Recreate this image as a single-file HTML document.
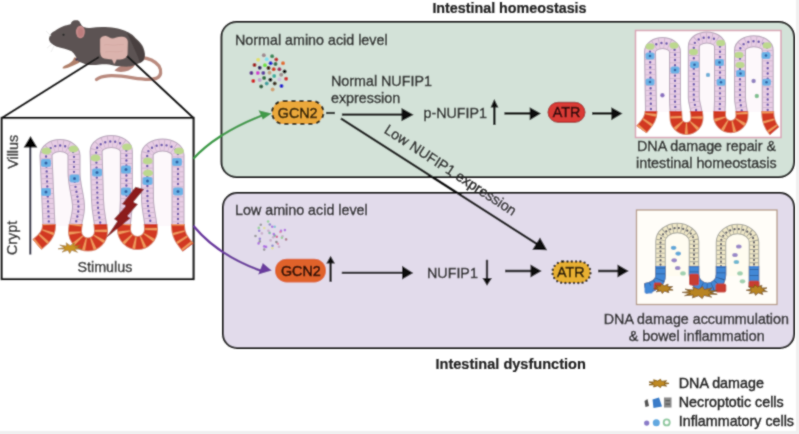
<!DOCTYPE html>
<html><head><meta charset="utf-8">
<style>
html,body{margin:0;padding:0;background:#fff;width:799px;height:434px;overflow:hidden}
svg{display:block}
text{font-family:"Liberation Sans",sans-serif;font-size:14.3px;fill:#262626;stroke:#262626;stroke-width:0.4}
.b{font-weight:bold;fill:#222;stroke:#222;stroke-width:0.2}
</style></head><body>
<svg width="799" height="434" viewBox="0 0 799 434">

<filter id="soft" x="0" y="0" width="799" height="434" filterUnits="userSpaceOnUse"><feConvolveMatrix order="3" kernelMatrix="0.04 0.1 0.04 0.1 0.44 0.1 0.04 0.1 0.04" edgeMode="duplicate"/></filter>
<g filter="url(#soft)">
<defs>
<path id="pL" d="M37,244.5 C41,241 49,236 49,226 L46,155.5 A14,10 0 0 1 74,155.5 L74,172 C74,186 78.5,196 78.5,207 C78.5,216 75,222 75,231.5 A13,13 0 0 0 101,231.5 C101,222 98,215 97.5,200 L96.1,151.4 A15.15,10 0 0 1 126.4,151.4 L126.4,200 C126.4,215 124,222 124,229.5 A13.5,13.5 0 0 0 151,229.5 C151,220 148,212 147.5,200 L147.2,155 A15.4,10 0 0 1 178,155 L178,226 C178,236 183,241 188,247.5"/>
<path id="pG" d="M641.5,129.5 C644,126 651,121 651,112 L650,52 A12.5,9 0 0 1 675,52 L675,100 C675,108 676,112 676,118 A10.5,10.5 0 0 0 697,118 C697,110 694,104 693.8,98 L693.8,46.4 A13.1,9 0 0 1 720,46.4 L720,100 C720,106 719.5,110 719.5,115.5 A11.25,11.25 0 0 0 742,115.5 C742,108 740,104 740,98 L740,50.2 A13.85,9 0 0 1 767.7,50.2 L767.7,112 C767.7,120 770,126 774.5,131"/>
<path id="pP" d="M645,288.5 C652,287 660.5,284 660.5,276 L660.5,241.5 A16.75,13.5 0 0 1 694,241.5 L694,274.5 A13.5,13.5 0 0 0 721,274.5 L721,242.5 A16.5,13.5 0 0 1 754,242.5 L754,287"/>
<clipPath id="cLred"><rect x="0" y="224" width="200" height="40"/></clipPath>
<clipPath id="cGred"><rect x="630" y="111" width="160" height="30"/></clipPath>
</defs>
<rect x="796" y="0" width="3" height="434" fill="#f0f0f0"/>
<rect x="0" y="431" width="799" height="3" fill="#f0f0f0"/>
<text class="b" x="432.4" y="12.5">Intestinal homeostasis</text>
<text class="b" x="435.5" y="368.5" style="font-size:14.55px">Intestinal dysfunction</text>
<rect x="221.5" y="22" width="572.5" height="155" rx="15" fill="#d3e2d8" stroke="#222" stroke-width="2"/>
<rect x="223" y="193" width="571" height="155" rx="14" fill="#e2dbeb" stroke="#222" stroke-width="2"/>
<g id="mouse">
<path d="M141,57.5 C148,58 155,61 159,66 C162,71 161,76 157,78 C152,80.5 144,79.5 133,77.8 C124,76.3 117,75.3 108,75.8 C103,76.2 99,77.5 96.5,79.5" fill="none" stroke="#b98a7e" stroke-width="3.3" stroke-linecap="round"/>
<path d="M136,63 C134,67.5 130,70.5 125,71.6 C121,72.3 117,72 114.5,70.6 C116,68.6 118.5,67 121,66 Z" fill="#b4847a"/>
<path d="M75,57 C77,59.5 79,61.5 79.7,62.5 C76,64.2 72,66.2 68,67.8 C66,68.6 63.5,68.9 62.5,68.3 C62.4,67 64,66 66,65 C70,63.4 73,61 74,58 Z" fill="#b0806a"/>
<path d="M49,38.4 C50,34 52,32 54.7,31 C58,28.5 62,26.5 65.2,25.5 C67.5,25 69.5,24.5 70.8,23.9 C71.5,21.5 73,20.5 75,20.3 C77,20 79,20 79.8,22.3 C81,24.5 82,26.5 83.7,27.1 C86,28 88,28.3 90,28 C95,27.2 100,26.8 105,27 C115,27.5 122,29 127,31.7 C132,34 134,36 136,38.5 C140,42 142.5,45 143.5,48 C145,52 145.5,56 144,60 C142.5,62 140,63 137,64 C135,65 133,66 130,66.5 C124,67 118,66 113.5,65.4 C110,64.6 106,64 100,64.4 C95,65 90,65.5 85.3,64.2 C82,63 80,62 78,61.5 C76.5,58 75,54 71.6,51.3 C68,49.5 62,48 56.3,46.5 C53,45 50.5,43 49.8,41.6 C49.2,40.5 48.9,39.5 49,38.4 Z" fill="#5b5352"/>
<path d="M127,33 C134,37 141,43 144,52 C145.5,57 144,61 140,62.5 C138,56 133,46 127,33 Z" fill="#463d3d" opacity="0.85"/>
<circle cx="76.5" cy="59.5" r="1.2" fill="#3a3352"/>
<path d="M100.2,39 C101,36.8 104,35.8 106.5,36.2 C108.5,36.8 110,38.4 112.5,38.4 C115,38.4 118,36.4 122,36.7 C126,37.1 127.8,39 127.8,42 L127.5,54 C127,57.5 124,59.4 120,59.4 L116.6,59.4 C115.8,61 115.2,63 114,64 C113.3,62.2 112.8,60.6 112,59.4 L104.5,58.6 C101.8,58 100.4,55.5 100.2,52 Z" fill="#dbb3ad"/>
<path d="M104,45 C108,43.5 112,46 116,45 C119,44 122,45 124,44.5 M105,52 C110,50.5 116,53 123,51" stroke="#cfa29d" stroke-width="0.9" fill="none" opacity="0.6"/>
<ellipse cx="80.4" cy="32" rx="4.4" ry="6.2" fill="#c48a8a"/>
<ellipse cx="80.6" cy="32.5" rx="2.6" ry="4.2" fill="#b87474" opacity="0.6"/>
<circle cx="63.5" cy="34.8" r="1.1" fill="#222"/>
<path d="M52,44 L47,48 M54,46 L51,52 M51,36 L46,31" stroke="#e4e4e4" stroke-width="0.7"/>
</g>
<rect x="1.8" y="118" width="191.7" height="161" fill="#fff" stroke="#1a1a1a" stroke-width="2.2"/>
<line x1="99" y1="57" x2="1.8" y2="118" stroke="#1a1a1a" stroke-width="2"/>
<line x1="127" y1="56" x2="193.5" y2="118" stroke="#1a1a1a" stroke-width="2"/>
<path d="M49,226 L46,155.5 A14,10 0 0 1 74,155.5 L74,172 C74,186 78.5,196 78.5,207 C78.5,216 75,222 75,226 Z" fill="#fdf8fb"/>
<path d="M97.5,226 L96.1,151.4 A15.15,10 0 0 1 126.4,151.4 L126.4,226 Z" fill="#fdf8fb"/>
<path d="M147.5,226 L147.2,155 A15.4,10 0 0 1 178,155 L178,226 Z" fill="#fdf8fb"/>
<use href="#pL" fill="none" stroke="#b5a2b8" stroke-width="13"/>
<use href="#pL" fill="none" stroke="#e8cee5" stroke-width="11"/>
<use href="#pL" fill="none" stroke="#c6b0c8" stroke-width="11" stroke-dasharray="0.7 4.3"/>
<use href="#pL" fill="none" stroke="#5a46a8" stroke-width="2.4" stroke-linecap="round" stroke-dasharray="0 5.0" stroke-dashoffset="-2.5"/>
<g clip-path="url(#cLred)">
<use href="#pL" fill="none" stroke="#d9825e" stroke-width="14.0"/>
<use href="#pL" fill="none" stroke="#d23823" stroke-width="12.5"/>
<use href="#pL" fill="none" stroke="#ee9a5c" stroke-width="12.5" stroke-dasharray="2 6.0"/>
</g>
<rect x="41" y="159" width="10" height="8" rx="2" fill="#6ab2e6"/><circle cx="46" cy="163" r="1.5" fill="#2a5aa0"/>
<rect x="41" y="188" width="10" height="8" rx="2" fill="#6ab2e6"/><circle cx="46" cy="192" r="1.5" fill="#2a5aa0"/>
<rect x="69.5" y="174.5" width="10" height="8" rx="2" fill="#6ab2e6"/><circle cx="74.5" cy="178.5" r="1.5" fill="#2a5aa0"/>
<rect x="92" y="168.5" width="10" height="8" rx="2" fill="#6ab2e6"/><circle cx="97" cy="172.5" r="1.5" fill="#2a5aa0"/>
<rect x="121" y="165.5" width="10" height="8" rx="2" fill="#6ab2e6"/><circle cx="126" cy="169.5" r="1.5" fill="#2a5aa0"/>
<rect x="121" y="187.5" width="10" height="8" rx="2" fill="#6ab2e6"/><circle cx="126" cy="191.5" r="1.5" fill="#2a5aa0"/>
<rect x="142.5" y="177" width="10" height="8" rx="2" fill="#6ab2e6"/><circle cx="147.5" cy="181" r="1.5" fill="#2a5aa0"/>
<rect x="172" y="158" width="10" height="8" rx="2" fill="#6ab2e6"/><circle cx="177" cy="162" r="1.5" fill="#2a5aa0"/>
<rect x="173" y="187.5" width="10" height="8" rx="2" fill="#6ab2e6"/><circle cx="178" cy="191.5" r="1.5" fill="#2a5aa0"/>
<ellipse cx="46.5" cy="151" rx="5" ry="3.6" fill="#bcd88e"/>
<ellipse cx="73.5" cy="149" rx="5" ry="3.6" fill="#bcd88e"/>
<ellipse cx="95.5" cy="158" rx="5" ry="3.6" fill="#bcd88e"/>
<ellipse cx="127" cy="147" rx="5" ry="3.6" fill="#bcd88e"/>
<ellipse cx="147.7" cy="161" rx="5" ry="3.6" fill="#bcd88e"/>
<ellipse cx="148" cy="173" rx="5" ry="3.6" fill="#bcd88e"/>
<ellipse cx="179" cy="151" rx="5" ry="3.6" fill="#bcd88e"/>
<path d="M135.5,186.7 L144.2,189.2 L133.5,202 L138,204.2 L127.5,216 L130.5,218.2 L105.5,238.5 L117.2,221.2 L114,219 L126,205.8 L122,204 Z" fill="#8c1c1e"/>
<path d="M81.8,249.1 L74.6,249.3 L77.5,252.3 L71.7,250.3 L69.7,253.5 L68.0,250.3 L62.1,252.1 L65.3,249.2 L58.1,248.8 L64.7,247.5 L59.8,245.1 L66.6,246.1 L66.2,242.8 L70.1,245.5 L74.4,242.9 L73.6,246.1 L80.5,245.4 L75.3,247.6 Z" fill="#c99524" stroke="#9b6c1a" stroke-width="0.6"/>
<text x="17.9" y="168.8" transform="rotate(-90 17.9 168.8)">Villus</text>
<text x="17.3" y="255" transform="rotate(-90 17.3 255)">Crypt</text>
<text x="77.5" y="272">Stimulus</text>
<line x1="30.3" y1="146" x2="30.3" y2="254.5" stroke="#161630" stroke-width="2"/>
<path d="M23.6,147.5 L30.5,136 L37.4,147.5 Z" fill="#000"/>
<path d="M193.3,158.7 C205,146 225,130 262,115.5" fill="none" stroke="#3f9a4a" stroke-width="2.3"/>
<path d="M271.7,113.4 L258.5,110.2 L262.8,119.6 Z" fill="#3f9a4a"/>
<path d="M193.3,225.7 C205,240 225,258 262,271.2" fill="none" stroke="#6a3a9e" stroke-width="2.3"/>
<path d="M271.7,270.4 L262.8,263 L258.2,274.6 Z" fill="#6a3a9e"/>
<text x="235" y="44.9">Normal amino acid level</text>
<circle cx="263.8" cy="55.2" r="2" fill="#a08a90"/>
<circle cx="272.1" cy="56.2" r="2" fill="#3a8a5a"/>
<circle cx="258.1" cy="59.8" r="2" fill="#e0e070"/>
<circle cx="266.7" cy="59.3" r="2" fill="#80e0f0"/>
<circle cx="276.3" cy="59.5" r="2" fill="#c03030"/>
<circle cx="283" cy="63.3" r="2" fill="#e07030"/>
<circle cx="254.5" cy="65" r="2" fill="#a02020"/>
<circle cx="264.9" cy="65.3" r="2" fill="#70e040"/>
<circle cx="270.6" cy="63.3" r="2" fill="#2020d0"/>
<circle cx="275.5" cy="64" r="2" fill="#307050"/>
<circle cx="259.7" cy="67.8" r="2" fill="#302060"/>
<circle cx="268.5" cy="68.1" r="2" fill="#402010"/>
<circle cx="273.7" cy="69.2" r="2" fill="#d04020"/>
<circle cx="279.4" cy="69.2" r="2" fill="#a03060"/>
<circle cx="284.6" cy="71.6" r="2" fill="#101010"/>
<circle cx="251.4" cy="73" r="2" fill="#603090"/>
<circle cx="257.8" cy="73" r="2" fill="#d040d0"/>
<circle cx="263.3" cy="73" r="2" fill="#6040a0"/>
<circle cx="269.5" cy="72.8" r="2" fill="#c0a080"/>
<circle cx="274.2" cy="76.1" r="2" fill="#40b0a0"/>
<circle cx="281.2" cy="74.7" r="2" fill="#a09090"/>
<circle cx="286.1" cy="78.8" r="2" fill="#d03030"/>
<circle cx="253.3" cy="80.9" r="2" fill="#d02020"/>
<circle cx="259.7" cy="80" r="2" fill="#c0a0d0"/>
<circle cx="264.1" cy="78" r="2" fill="#307040"/>
<circle cx="270.4" cy="79.8" r="2" fill="#101010"/>
<circle cx="279.4" cy="79.5" r="2" fill="#d0c0e0"/>
<circle cx="266.7" cy="83.4" r="2" fill="#40a0a0"/>
<circle cx="274.7" cy="83.4" r="2" fill="#403020"/>
<circle cx="281.5" cy="86.1" r="2" fill="#2020d0"/>
<circle cx="261.2" cy="86.5" r="2" fill="#306040"/>
<circle cx="272.6" cy="89.4" r="2" fill="#d0a070"/>
<text x="331" y="85.8">Normal NUFIP1</text>
<text x="331" y="103.1">expression</text>
<rect x="272" y="101" width="51.5" height="23" rx="11.5" fill="#eba83a" stroke="#1e1a10" stroke-width="2" stroke-dasharray="4,4"/>
<text x="277.8" y="117.5" style="fill:#2e2008;stroke:#2e2008;stroke-width:0.55">GCN2</text>
<line x1="326" y1="113" x2="335" y2="113" stroke="#111" stroke-width="2.2"/>
<line x1="341.9" y1="114.7" x2="403" y2="114.7" stroke="#111" stroke-width="2.2"/>
<path d="M401.5,108 L413.7,114.7 L401.5,121.3 Z" fill="#111"/>
<text x="423.5" y="117.6">p-NUFIP1</text>
<line x1="494.3" y1="106" x2="494.3" y2="125" stroke="#111" stroke-width="2.5"/>
<path d="M490.5,107.5 L494.3,99 L498.5,107.5 Z" fill="#111"/>
<line x1="504.4" y1="113.4" x2="531" y2="113.4" stroke="#111" stroke-width="2.5"/>
<path d="M529.7,107.2 L541,113.4 L529.7,120.3 Z" fill="#111"/>
<rect x="548" y="102.3" width="37" height="20" rx="10" fill="#d93a36" stroke="#9a2222" stroke-width="1"/>
<text x="552.8" y="117" style="fill:#2e0c0c;stroke:#2e0c0c;stroke-width:0.55">ATR</text>
<line x1="592" y1="113.4" x2="612" y2="113.4" stroke="#111" stroke-width="2.5"/>
<path d="M611.3,107.2 L622.6,113.4 L611.3,120.3 Z" fill="#111"/>
<rect x="635.5" y="30.5" width="145.5" height="107" fill="#fff" stroke="#d9a3b5" stroke-width="1.5"/>
<path d="M651,112 L650,52 A12.5,9 0 0 1 675,52 L675,112 Z" fill="#fdf8fb"/>
<path d="M694,112 L693.8,46.4 A13.1,9 0 0 1 720,46.4 L720,112 Z" fill="#fdf8fb"/>
<path d="M740.5,112 L740,50.2 A13.85,9 0 0 1 767.7,50.2 L767.7,112 Z" fill="#fdf8fb"/>
<use href="#pG" fill="none" stroke="#b5a2b8" stroke-width="12"/>
<use href="#pG" fill="none" stroke="#e8cee5" stroke-width="10"/>
<use href="#pG" fill="none" stroke="#c6b0c8" stroke-width="10" stroke-dasharray="0.7 4.5"/>
<use href="#pG" fill="none" stroke="#5a46a8" stroke-width="2.4" stroke-linecap="round" stroke-dasharray="0 5.2" stroke-dashoffset="-2.6"/>
<g clip-path="url(#cGred)">
<use href="#pG" fill="none" stroke="#d9825e" stroke-width="13.0"/>
<use href="#pG" fill="none" stroke="#d23823" stroke-width="11.5"/>
<use href="#pG" fill="none" stroke="#ee9a5c" stroke-width="11.5" stroke-dasharray="2 6.5"/>
</g>
<rect x="645.5" y="52.5" width="9" height="7" rx="2" fill="#6ab2e6"/><circle cx="650" cy="56" r="1.3" fill="#2a5aa0"/>
<rect x="645.5" y="78.5" width="9" height="7" rx="2" fill="#6ab2e6"/><circle cx="650" cy="82" r="1.3" fill="#2a5aa0"/>
<rect x="670.5" y="66.5" width="9" height="7" rx="2" fill="#6ab2e6"/><circle cx="675" cy="70" r="1.3" fill="#2a5aa0"/>
<rect x="690.0" y="61.3" width="9" height="7" rx="2" fill="#6ab2e6"/><circle cx="694.5" cy="64.8" r="1.3" fill="#2a5aa0"/>
<rect x="715.0" y="58.9" width="9" height="7" rx="2" fill="#6ab2e6"/><circle cx="719.5" cy="62.4" r="1.3" fill="#2a5aa0"/>
<rect x="716.5" y="78.8" width="9" height="7" rx="2" fill="#6ab2e6"/><circle cx="721" cy="82.3" r="1.3" fill="#2a5aa0"/>
<rect x="736.0" y="70.1" width="9" height="7" rx="2" fill="#6ab2e6"/><circle cx="740.5" cy="73.6" r="1.3" fill="#2a5aa0"/>
<rect x="761.5" y="52.0" width="9" height="7" rx="2" fill="#6ab2e6"/><circle cx="766" cy="55.5" r="1.3" fill="#2a5aa0"/>
<rect x="762.0" y="78.8" width="9" height="7" rx="2" fill="#6ab2e6"/><circle cx="766.5" cy="82.3" r="1.3" fill="#2a5aa0"/>
<ellipse cx="650" cy="46.5" rx="4.5" ry="3.2" fill="#bcd88e"/>
<ellipse cx="674" cy="45.5" rx="4.5" ry="3.2" fill="#bcd88e"/>
<ellipse cx="693.5" cy="52" rx="4.5" ry="3.2" fill="#bcd88e"/>
<ellipse cx="720.7" cy="43" rx="4.5" ry="3.2" fill="#bcd88e"/>
<ellipse cx="739" cy="55" rx="4.5" ry="3.2" fill="#bcd88e"/>
<ellipse cx="740" cy="65" rx="4.5" ry="3.2" fill="#bcd88e"/>
<ellipse cx="767" cy="45.5" rx="4.5" ry="3.2" fill="#bcd88e"/>
<circle cx="662.4" cy="95.3" r="2.2" fill="#8a70c0"/>
<circle cx="708" cy="74.9" r="2.2" fill="#70b0d8"/>
<circle cx="753.6" cy="81" r="2.2" fill="#9080c0"/>
<circle cx="756.8" cy="96" r="2.2" fill="#80c090"/>
<text x="637" y="151.4">DNA damage repair &amp;</text>
<text x="636" y="167.6">intestinal homeostasis</text>
<text x="235" y="215">Low amino acid level</text>
<circle cx="272.4" cy="248.3" r="1.3" fill="#e0e080" opacity="0.75"/>
<circle cx="281.0" cy="230.9" r="1.3" fill="#a050e0" opacity="0.75"/>
<circle cx="273.2" cy="237.2" r="1.3" fill="#c0a0c0" opacity="0.75"/>
<circle cx="259.8" cy="238.8" r="1.3" fill="#8060d0" opacity="0.75"/>
<circle cx="282.5" cy="236.2" r="1.3" fill="#c0a0c0" opacity="0.75"/>
<circle cx="261.9" cy="233.4" r="1.3" fill="#c0a0c0" opacity="0.75"/>
<circle cx="279.0" cy="246.8" r="1.3" fill="#c0a0c0" opacity="0.75"/>
<circle cx="280.4" cy="232.0" r="1.3" fill="#e080a0" opacity="0.75"/>
<circle cx="269.6" cy="232.9" r="1.3" fill="#60b090" opacity="0.75"/>
<circle cx="274.7" cy="235.6" r="1.3" fill="#60b090" opacity="0.75"/>
<circle cx="286.1" cy="239.4" r="1.3" fill="#a06070" opacity="0.75"/>
<circle cx="258.8" cy="227.9" r="1.3" fill="#80d080" opacity="0.75"/>
<circle cx="268.1" cy="221.5" r="1.3" fill="#80d080" opacity="0.75"/>
<circle cx="269.8" cy="224.5" r="1.3" fill="#7070c0" opacity="0.75"/>
<circle cx="277.9" cy="243.7" r="1.3" fill="#e080a0" opacity="0.75"/>
<circle cx="276.4" cy="242.1" r="1.3" fill="#707070" opacity="0.75"/>
<circle cx="259.8" cy="241.4" r="1.3" fill="#808080" opacity="0.75"/>
<circle cx="258.6" cy="243.4" r="1.3" fill="#a050e0" opacity="0.75"/>
<circle cx="264.2" cy="246.4" r="1.3" fill="#a050e0" opacity="0.75"/>
<circle cx="272.5" cy="245.7" r="1.3" fill="#7070c0" opacity="0.75"/>
<circle cx="284.9" cy="230.1" r="1.3" fill="#a050e0" opacity="0.75"/>
<circle cx="268.4" cy="230.8" r="1.3" fill="#c0a0c0" opacity="0.75"/>
<circle cx="266.1" cy="246.9" r="1.3" fill="#a050e0" opacity="0.75"/>
<circle cx="259.2" cy="230.8" r="1.3" fill="#8060d0" opacity="0.75"/>
<circle cx="260.8" cy="224.7" r="1.3" fill="#808080" opacity="0.75"/>
<circle cx="270.6" cy="240.4" r="1.3" fill="#c0a0c0" opacity="0.75"/>
<circle cx="264.3" cy="228.0" r="1.3" fill="#e0e080" opacity="0.75"/>
<circle cx="274.7" cy="226.8" r="1.3" fill="#60c0d0" opacity="0.75"/>
<circle cx="281.9" cy="237.8" r="1.3" fill="#80d080" opacity="0.75"/>
<circle cx="273.8" cy="234.1" r="1.3" fill="#a050e0" opacity="0.75"/>
<circle cx="272.2" cy="226.7" r="1.3" fill="#a050e0" opacity="0.75"/>
<circle cx="264.2" cy="249.6" r="1.3" fill="#808080" opacity="0.75"/>
<circle cx="255.5" cy="236.0" r="1.3" fill="#808080" opacity="0.75"/>
<circle cx="276.8" cy="236.7" r="1.3" fill="#d04080" opacity="0.75"/>
<rect x="275" y="258.75" width="51" height="23.75" rx="11.8" fill="#e0622a"/>
<text x="281" y="275.5" style="fill:#2a0e05;stroke:#2a0e05;stroke-width:0.6">GCN2</text>
<line x1="330.6" y1="262" x2="330.6" y2="281.8" stroke="#111" stroke-width="2.3"/>
<path d="M326.2,263.6 L330.6,255.8 L335,263.6 Z" fill="#111"/>
<line x1="341.8" y1="272.9" x2="404" y2="272.9" stroke="#111" stroke-width="2.3"/>
<path d="M402,265.8 L413.3,272.9 L402,279.6 Z" fill="#111"/>
<text x="427" y="278">NUFIP1</text>
<line x1="487" y1="259.8" x2="487" y2="279" stroke="#111" stroke-width="2.3"/>
<path d="M482.4,278 L487,285.8 L492,278 Z" fill="#111"/>
<line x1="505" y1="271" x2="532" y2="271" stroke="#111" stroke-width="2.5"/>
<path d="M530.5,264.5 L541.7,271 L530.5,277.5 Z" fill="#111"/>
<rect x="552.5" y="261.5" width="38" height="21.5" rx="10.7" fill="#e8b030" stroke="#1e1a10" stroke-width="2.4" stroke-linecap="round" stroke-dasharray="0,4.3"/>
<text x="557" y="277.2" style="fill:#22180a;stroke:#22180a;stroke-width:0.55">ATR</text>
<line x1="598" y1="271" x2="620" y2="271" stroke="#111" stroke-width="2.5"/>
<path d="M617.5,264.5 L628.8,271 L617.5,277.5 Z" fill="#111"/>
<rect x="636.5" y="210" width="140.5" height="94.5" fill="#fffdf8" stroke="#b59a85" stroke-width="1.3"/>
<path d="M660.5,276 L660.5,241.5 A16.75,13.5 0 0 1 694,241.5 L694,276 Z" fill="#fffcf0"/>
<path d="M721,276 L721,242.5 A16.5,13.5 0 0 1 754,242.5 L754,276 Z" fill="#fffcf0"/>
<use href="#pP" fill="none" stroke="#a4a49a" stroke-width="10.5"/>
<use href="#pP" fill="none" stroke="#efe7c6" stroke-width="8.5"/>
<use href="#pP" fill="none" stroke="#a0a096" stroke-width="8.5" stroke-dasharray="0.9 3.5"/>
<use href="#pP" fill="none" stroke="#45455a" stroke-width="2.2" stroke-linecap="round" stroke-dasharray="0 4.4" stroke-dashoffset="-2.2"/>
<clipPath id="cPblue"><rect x="630" y="266" width="150" height="40"/></clipPath>
<g clip-path="url(#cPblue)">
<use href="#pP" fill="none" stroke="#3a6aa8" stroke-width="10.5"/>
<use href="#pP" fill="none" stroke="#4288d6" stroke-width="9"/>
<use href="#pP" fill="none" stroke="#2e5a94" stroke-width="9" stroke-dasharray="0.8 5"/>
</g>
<rect x="689" y="273.8" width="10" height="11.800000000000011" rx="2" fill="#c83c30"/>
<rect x="715.5" y="283.6" width="10.799999999999955" height="8.899999999999977" rx="2" fill="#c83c30"/>
<rect x="748.6" y="280.7" width="10.899999999999977" height="6.800000000000011" rx="2" fill="#c83c30"/>
<rect x="653.7" y="282.6" width="8.299999999999955" height="7.399999999999977" rx="2" fill="#c83c30"/>
<rect x="644.5" y="285.6" width="8.2" height="7.8" rx="1.5" fill="#4288d6"/>
<path d="M673.1,290.0 L667.9,290.2 L668.9,292.7 L664.7,291.2 L662.2,293.5 L661.0,290.9 L656.2,291.9 L658.4,289.6 L653.5,288.7 L658.2,287.7 L655.5,285.5 L660.5,286.2 L661.3,283.6 L664.2,285.8 L668.1,284.1 L667.5,286.6 L672.7,286.6 L669.0,288.4 Z" fill="#b88424" stroke="#7e5612" stroke-width="0.9"/>
<path d="M717.2,294.3 L708.3,294.3 L711.6,297.1 L704.0,295.5 L702.3,298.5 L698.5,295.8 L692.3,297.9 L693.4,295.0 L684.7,295.7 L690.5,293.4 L682.0,292.4 L690.5,291.5 L685.0,289.2 L693.6,290.0 L692.8,287.0 L698.7,289.2 L702.8,286.6 L704.2,289.5 L712.0,288.0 L708.4,290.8 L717.3,290.9 L709.9,292.5 Z" fill="#b88424" stroke="#7e5612" stroke-width="0.9"/>
<path d="M767.3,291.6 L761.7,291.8 L762.9,294.5 L758.3,292.9 L755.6,295.4 L754.3,292.6 L749.1,293.7 L751.5,291.2 L746.2,290.3 L751.3,289.1 L748.4,286.7 L753.8,287.5 L754.6,284.7 L757.7,287.1 L761.9,285.2 L761.4,288.0 L767.0,287.9 L762.9,289.9 Z" fill="#b88424" stroke="#7e5612" stroke-width="0.9"/>
<ellipse cx="673.6" cy="247.8" rx="2.8" ry="2.1" fill="#60a8d8"/>
<ellipse cx="678.2" cy="253.6" rx="2.8" ry="2.1" fill="#60a8d8"/>
<ellipse cx="674.2" cy="260.3" rx="2.8" ry="2.1" fill="#9a88c8"/>
<ellipse cx="677.7" cy="268" rx="2.8" ry="2.1" fill="#9a88c8"/>
<ellipse cx="683" cy="273.4" rx="2.8" ry="2.1" fill="#a0d0b0"/>
<ellipse cx="738.8" cy="246.5" rx="2.8" ry="2.1" fill="#9a88c8"/>
<ellipse cx="735" cy="255" rx="2.8" ry="2.1" fill="#9a88c8"/>
<ellipse cx="736.4" cy="262" rx="2.8" ry="2.1" fill="#70b8d0"/>
<ellipse cx="740" cy="273.4" rx="2.8" ry="2.1" fill="#a0d0b0"/>
<ellipse cx="742.5" cy="281.3" rx="2.8" ry="2.1" fill="#a0d0b0"/>
<text x="603.75" y="323.75">DNA damage accummulation</text>
<text x="628.75" y="340.5">&amp; bowel inflammation</text>
<line x1="340.9" y1="118.5" x2="537" y2="244" stroke="#111" stroke-width="2.4"/>
<path d="M540,237.5 L532.3,249.8 L547.2,250.3 Z" fill="#111"/>
<text x="383.2" y="132.2" transform="rotate(33 383.2 132.2)">Low NUFIP1 expression</text>
<path d="M669.0,383.4 L664.0,384.2 L666.6,386.1 L661.5,385.4 L660.5,387.5 L657.7,385.7 L653.6,387.0 L654.4,384.9 L649.0,384.8 L653.0,383.4 L649.0,382.0 L654.4,381.9 L653.6,379.8 L657.7,381.1 L660.5,379.3 L661.5,381.4 L666.6,380.7 L664.0,382.6 Z" fill="#c08a20" stroke="#7a5010" stroke-width="0.8"/>
<text x="678.8" y="387.5">DNA damage</text>
<path d="M644.5,401 L647.5,399 L649,406 L645.5,407 Z" fill="#555"/>
<path d="M652.5,399.5 L659,397.5 L662,406.5 L653.5,408 Z" fill="#3a7cc8"/>
<rect x="664" y="397.5" width="7.5" height="10" fill="#8a8a8a"/><rect x="665.5" y="400" width="4.5" height="1.2" fill="#555"/><rect x="665.5" y="403.5" width="4.5" height="1.2" fill="#555"/>
<text x="678.8" y="406.8">Necroptotic cells</text>
<circle cx="646.7" cy="423.1" r="2.6" fill="#8a7cc8"/><circle cx="656.3" cy="422.8" r="3.5" fill="#62a8e0"/><circle cx="666.7" cy="422.4" r="3" fill="none" stroke="#90c8a0" stroke-width="1.8"/>
<text x="678.8" y="425.7">Inflammatory cells</text>
</g>
</svg>
</body></html>
